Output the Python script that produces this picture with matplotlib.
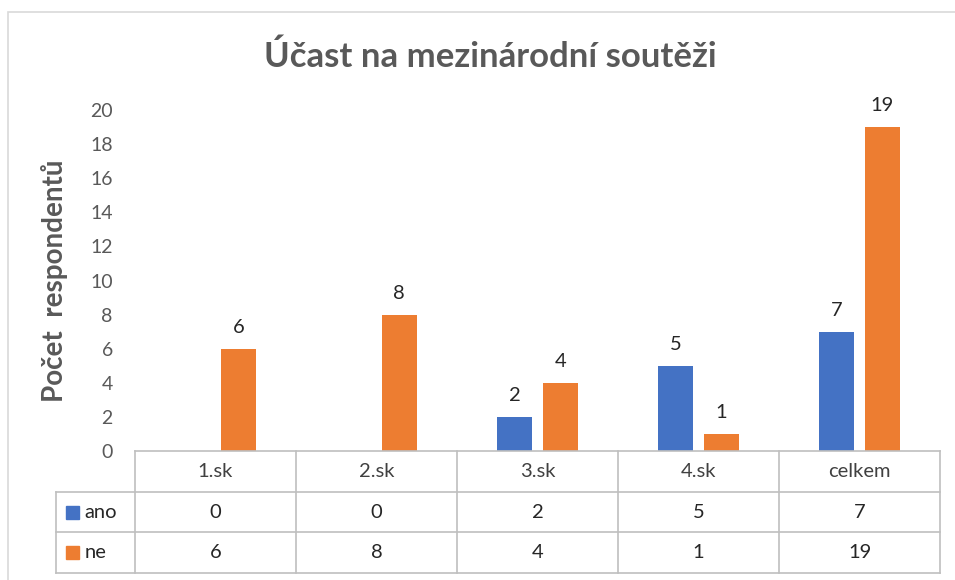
import matplotlib.pyplot as plt
import numpy as np
from matplotlib.patches import Rectangle
from matplotlib.transforms import blended_transform_factory

plt.rcParams['font.family'] = ['Lato', 'DejaVu Sans']

categories = ['1.sk', '2.sk', '3.sk', '4.sk', 'celkem']
ano = [0, 0, 2, 5, 7]
ne = [6, 8, 4, 1, 19]
series_names = ['ano', 'ne']
colors = ['#4472c4', '#ed7d31']

W, H = 955, 580
fig = plt.figure(figsize=(W / 100, H / 100), dpi=100)

# chart frame (light gray border)
fig.patches.append(Rectangle((8 / W, -0.01), 1.02, (H - 12) / H + 0.01, transform=fig.transFigure,
                             fill=False, edgecolor='#d9d9d9', linewidth=1.2))

ax = fig.add_axes([135 / W, (H - 451) / H, (940 - 135) / W, (451 - 110) / H])
x = np.arange(len(categories))
bw = 0.22
off = 0.142
for vals, xs, c in [(ano, x - off, colors[0]), (ne, x + off, colors[1])]:
    bars = ax.bar(xs, vals, width=bw, color=c)
    for b, v in zip(bars, vals):
        if v != 0:
            ax.text(b.get_x() + b.get_width() / 2, v + 0.75, str(v), ha='center', va='bottom',
                    fontsize=14.5, color='#262626')

ax.set_xlim(-0.5, len(categories) - 0.5)
ax.set_ylim(0, 20)
ax.set_yticks(range(0, 21, 2))
ax.tick_params(axis='y', length=0, labelsize=14, labelcolor='#595959', pad=16)
ax.set_xticks([])
for s in ax.spines.values():
    s.set_visible(False)

ax.set_ylabel('Počet  respondentů', fontsize=20, fontweight='bold', color='#595959', labelpad=16)
fig.text(490 / W, 1 - 57 / H, 'Účast na mezinárodní soutěži', ha='center', va='center',
         fontsize=25, fontweight='bold', color='#595959')

# data table under the axis
tr = blended_transform_factory(ax.transData, fig.transFigure)
row_h = 40.7 / H
y0 = 1 - 451 / H
lc = '#bfbfbf'
left_hdr = -0.5 - (135 - 56) / 161
xr = len(categories) - 0.5
lines = []
# horizontal lines
lines.append(([-0.5, xr], [y0, y0]))
for i in range(1, 4):
    lines.append(([left_hdr, xr], [y0 - i * row_h, y0 - i * row_h]))
# vertical lines
lines.append(([left_hdr, left_hdr], [y0 - row_h, y0 - 3 * row_h]))
for k in range(len(categories) + 1):
    xv = k - 0.5
    lines.append(([xv, xv], [y0, y0 - 3 * row_h]))
for xs_, ys_ in lines:
    ax.plot(xs_, ys_, color=lc, lw=1.2, transform=tr, clip_on=False)

for i, cat in enumerate(categories):
    ax.text(i, y0 - 0.5 * row_h, cat, transform=tr, ha='center', va='center', fontsize=14.5, color='#404040')
for r, (name, vals, c) in enumerate(zip(series_names, [ano, ne], colors)):
    yc = y0 - (r + 1.5) * row_h
    for i, v in enumerate(vals):
        ax.text(i, yc, str(v), transform=tr, ha='center', va='center', fontsize=14.5, color='#262626')
    ax.add_patch(Rectangle((left_hdr + 0.06, yc - 6.5 / H), 0.085, 13 / H, transform=tr,
                           color=c, clip_on=False))
    ax.text(left_hdr + 0.175, yc, name, transform=tr, ha='left', va='center', fontsize=14.5, color='#262626')

fig.savefig('out.png', dpi=100)
